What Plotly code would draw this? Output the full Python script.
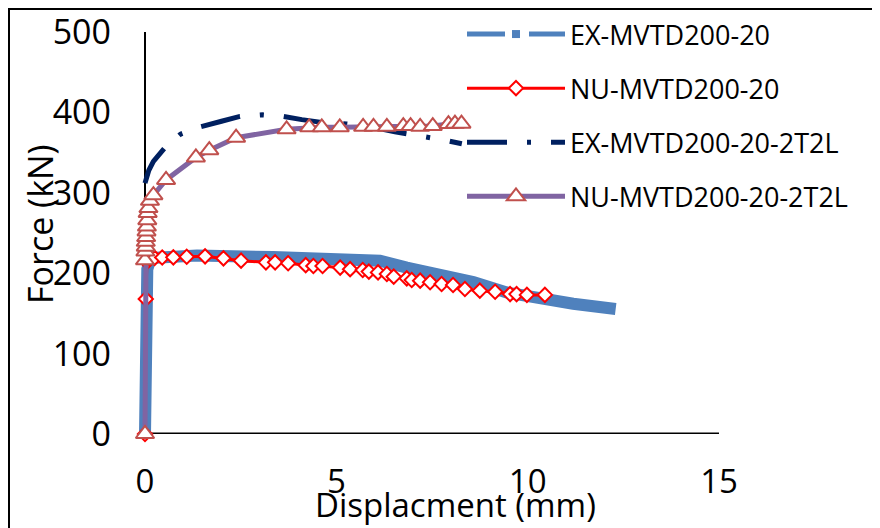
import plotly.graph_objects as go

# ---------------- data ----------------
ex20_x = [0, 0.03, 0.06, 0.15, 0.6, 1.36, 3.35, 5.1, 6.14, 6.84, 7.71, 8.58, 9.45, 10.32, 11.19, 12.3]
ex20_y = [0, 110, 205, 219, 221, 222, 220, 217.7, 215.6, 207, 199, 189, 176, 168, 162, 155.5]

nu20_x = [0, 0.02, 0.05, 0.12, 0.25, 0.45, 0.74, 1.09, 1.57, 2.05, 2.51, 3.16, 3.4, 3.74, 4.2, 4.4,
          4.64, 5.1, 5.36, 5.69, 5.85, 6.09, 6.32, 6.5, 6.84, 6.97, 7.19, 7.45, 7.75, 8.05, 8.36,
          8.75, 9.15, 9.54, 9.71, 9.98, 10.45]
nu20_y = [0, 168, 214, 218, 219, 219.5, 219.7, 220.5, 221, 218.5, 215.6, 213.5, 213.5, 212.3, 210, 209,
          209, 207, 205, 204, 202, 201, 199, 195.7, 193.6, 191.5, 190.7, 188.7, 186.6, 185.3, 180.3,
          178.3, 177, 174, 174, 173, 173]

ex2t_x = [0, 0.1, 0.22, 0.52, 0.93, 1.44, 2.0, 2.48, 3.07, 3.6, 4.1, 4.7, 5.27, 5.9, 6.53, 7.32, 7.88, 8.28]
ex2t_y = [312, 328, 339, 356, 373, 382, 389, 395, 397, 395, 391, 387, 385.6, 382, 376, 370, 365, 361]

nu2t_x = [0, 0, 0.01, 0.02, 0.02, 0.03, 0.04, 0.05, 0.06, 0.07, 0.09, 0.13, 0.22, 0.55, 1.33, 1.68, 2.38,
          3.7, 4.29, 4.62, 5.09, 5.7, 5.97, 6.32, 6.75, 6.94, 7.19, 7.52, 7.93, 8.1, 8.27]
nu2t_y = [0, 216, 227, 233, 239, 245, 252, 258, 266, 275, 281, 290, 297, 316, 344, 353, 368.5,
          379, 381.5, 381.5, 381.5, 382, 382, 382, 383, 383, 382, 383, 385.5, 386, 386]

names = ["EX-MVTD200-20", "NU-MVTD200-20", "EX-MVTD200-20-2T2L", "NU-MVTD200-20-2T2L"]
x_ticks = [0, 5, 10, 15]
y_ticks = [0, 100, 200, 300, 400, 500]

FONT = "Open Sans"

# ---------------- layout helpers (page pixels; page has an 8px body margin) ----------------
OFF = 8
PL, PR, PT, PB = 134, 719, 32, 434          # plot area in page pixels
W, H = 880 - OFF, 528 - OFF                  # figure size
L, R, T, B = PL - OFF, PR - OFF, PT - OFF, PB - OFF
def px(x):
    return (x - PL) / (PR - PL)
def py(y):
    return (PB - y) / (PB - PT)

fig = go.Figure()

# legend-only entry for the experimental series (dashed with square marker)
fig.add_trace(go.Scatter(
    x=[None], y=[None], name=names[0], mode="lines+markers", legendgroup="a",
    line=dict(color="#4F81BD", width=5, dash="38px,24px"),
    marker=dict(symbol="square", size=8, color="#4F81BD"),
))
# experimental series drawn as heavy band
fig.add_trace(go.Scatter(
    x=ex20_x, y=ex20_y, name=names[0], mode="lines", showlegend=False, legendgroup="a",
    line=dict(color="#4F81BD", width=12),
))
fig.add_trace(go.Scatter(
    x=nu20_x, y=nu20_y, name=names[1], mode="lines+markers", legendgroup="b",
    line=dict(color="#FF0000", width=3),
    marker=dict(symbol="diamond", size=11, color="white", line=dict(color="#FF0000", width=2)),
    cliponaxis=False,
))
fig.add_trace(go.Scatter(
    x=ex2t_x, y=ex2t_y, name=names[2], mode="lines", legendgroup="c",
    line=dict(color="#002060", width=5, dash="40px,20px,4px,20px"),
))
fig.add_trace(go.Scatter(
    x=nu2t_x, y=nu2t_y, name=names[3], mode="lines+markers", legendgroup="d",
    line=dict(color="#8064A2", width=5),
    marker=dict(symbol="triangle-up", size=16, color="white", line=dict(color="#C0504D", width=2)),
    cliponaxis=False,
))

x0 = -(145 - PL) / ((PR - 145) / 15.0)

fig.update_layout(
    width=W, height=H,
    margin=dict(l=L, r=W - R, t=T, b=H - B, pad=0, autoexpand=False),
    paper_bgcolor="white", plot_bgcolor="white",
    font=dict(family=FONT, color="black", size=30),
    xaxis=dict(range=[x0, 15], tickvals=x_ticks, showgrid=False, zeroline=False,
               showline=False, ticks="", tickfont=dict(size=33), ticklabelstandoff=25,
               ticklabeloverflow="allow"),
    yaxis=dict(range=[0, 500], tickvals=y_ticks, showgrid=False, zeroline=False,
               showline=False, ticks="", tickfont=dict(size=34), ticklabelstandoff=22,
               ticklabeloverflow="allow"),
    legend=dict(x=px(462), y=py(10), xanchor="left", yanchor="top",
                font=dict(size=27), itemwidth=98, tracegroupgap=16,
                bgcolor="rgba(0,0,0,0)", traceorder="grouped"),
    showlegend=True,
    shapes=[
        # axis lines
        dict(type="line", xref="x", yref="y", x0=0, x1=0, y0=0, y1=500,
             line=dict(color="black", width=2), layer="below"),
        dict(type="line", xref="x", yref="y", x0=0, x1=15, y0=0, y1=0,
             line=dict(color="black", width=3), layer="below"),
        # chart border
        dict(type="rect", xref="paper", yref="paper", x0=px(9), x1=px(890), y0=py(540), y1=py(9),
             line=dict(color="black", width=2), fillcolor="rgba(0,0,0,0)", layer="above"),
    ],
    annotations=[
        dict(text="Displacment (mm)", xref="paper", yref="paper", x=px(455), y=py(504),
             xanchor="center", yanchor="middle", showarrow=False, font=dict(size=33)),
        dict(text="Force (kN)", xref="paper", yref="paper", x=px(40), y=py(224),
             xanchor="center", yanchor="middle", showarrow=False, textangle=-90, font=dict(size=34)),
    ],
)

fig.write_html("out.html")
